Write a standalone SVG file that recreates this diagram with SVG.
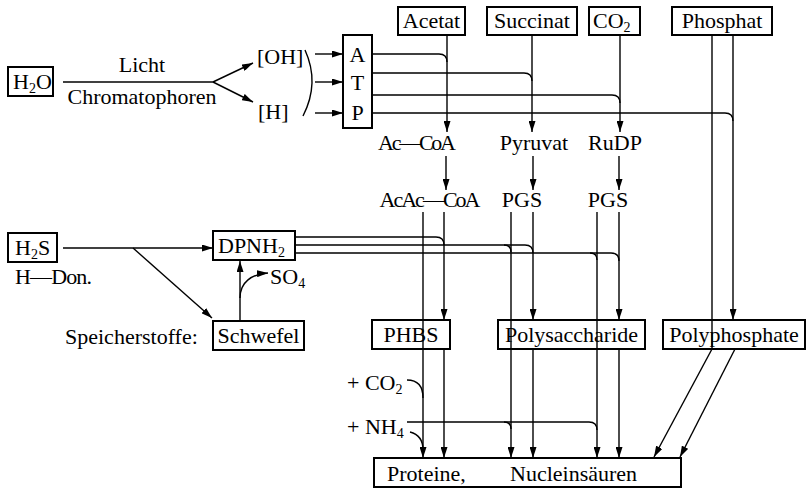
<svg xmlns="http://www.w3.org/2000/svg" width="807" height="490" viewBox="0 0 807 490">
<style>
text{font-family:"Liberation Serif","DejaVu Serif",serif;font-size:22px;fill:#000}
.box{fill:none;stroke:#000;stroke-width:2}
.c{text-anchor:middle}
.ln{fill:none;stroke:#000;stroke-width:1.4}
.a{marker-end:url(#ah)}
.sub{font-size:14px}
</style>
<defs>
<marker id="ah" viewBox="0 0 11 7" refX="11" refY="3.5" markerWidth="11" markerHeight="7" markerUnits="userSpaceOnUse" orient="auto"><path d="M0,0 L11,3.5 L0,7 z" fill="#000"/></marker>
</defs>
<rect width="807" height="490" fill="#fff"/>

<g id="connectors">
<path class="ln" d="M63,82 H213"/>
<path class="ln a" d="M213,82 L253,63"/>
<path class="ln a" d="M213,82 L253,102"/>
<path class="ln" d="M305,50 Q320,83 303,116"/>
<path class="ln a" d="M315,54 H343"/>
<path class="ln a" d="M315,82 H343"/>
<path class="ln a" d="M315,113 H343"/>
<path class="ln" d="M372,54 H439 Q447,54 447,62"/>
<path class="ln" d="M372,73 H524 Q532,73 532,81"/>
<path class="ln" d="M372,95 H612 Q620,95 620,103"/>
<path class="ln" d="M372,113 H725 Q733,113 733,121"/>
<path class="ln a" d="M447,35 V132"/>
<path class="ln a" d="M532,35 V132"/>
<path class="ln a" d="M620,35 V132"/>
<path class="ln a" d="M446,156 V190"/>
<path class="ln a" d="M533,156 V190"/>
<path class="ln a" d="M619,156 V190"/>
<path class="ln" d="M712,35 V349"/>
<path class="ln a" d="M712,349 L654,457"/>
<path class="ln a" d="M733,35 V320"/>
<path class="ln a" d="M735,349 L680,457"/>
<path class="ln a" d="M423,212 V458"/>
<path class="ln a" d="M444,212 V320"/>
<path class="ln a" d="M444,349 V458"/>
<path class="ln a" d="M511,212 V458"/>
<path class="ln a" d="M533,212 V320"/>
<path class="ln a" d="M533,349 V458"/>
<path class="ln a" d="M597,212 V458"/>
<path class="ln a" d="M619,212 V320"/>
<path class="ln a" d="M619,349 V458"/>
<path class="ln" d="M295,237 H436 Q444,237 444,245"/>
<path class="ln" d="M295,245 H525 Q533,245 533,253"/>
<path class="ln" d="M504,245 Q511,245 511,252"/>
<path class="ln" d="M295,253 H611 Q619,253 619,261"/>
<path class="ln" d="M590,253 Q597,253 597,260"/>
<path class="ln a" d="M63,248 H213"/>
<path class="ln a" d="M133,248 L212,318"/>
<path class="ln a" d="M240,321 V261"/>
<path class="ln a" d="M240,298 C240,282 252,274 268,273"/>
<path class="ln" d="M407,380 C418,380 423,386 423,398"/>
<path class="ln" d="M410,432 C418,434 423,440 423,450"/>
<path class="ln" d="M407,422 H589 Q597,422 597,430"/>
<path class="ln" d="M504,422 Q511,422 511,429"/>
</g>

<g id="H2O"><rect class="box" x="8" y="67" width="45" height="29"/><text x="13" y="89">H<tspan class="sub" dy="4">2</tspan><tspan dy="-4">O</tspan></text></g>
<g id="licht"><text class="c" x="142" y="72">Licht</text><text class="c" x="142" y="104">Chromatophoren</text></g>
<g id="OH"><text x="257" y="64">[OH]</text></g>
<g id="H"><text x="258" y="119">[H]</text></g>
<g id="ATP"><rect class="box" x="343" y="35" width="29" height="93"/><text class="c" x="357.5" y="62">A</text><text class="c" x="357.5" y="90">T</text><text class="c" x="357.5" y="120">P</text></g>
<g id="Acetat"><rect class="box" x="398" y="7" width="67" height="28"/><text class="c" x="431.5" y="28">Acetat</text></g>
<g id="Succinat"><rect class="box" x="487" y="7" width="90" height="28"/><text class="c" x="532" y="28">Succinat</text></g>
<g id="CO2"><rect class="box" x="589" y="7" width="51" height="28"/><text x="593" y="28">CO<tspan class="sub" dy="4">2</tspan></text></g>
<g id="Phosphat"><rect class="box" x="672" y="7" width="100" height="28"/><text class="c" x="722" y="28">Phosphat</text></g>
<g id="AcCoA"><text class="c" x="417" y="150" textLength="78">Ac—CoA</text></g>
<g id="Pyruvat"><text class="c" x="534" y="150">Pyruvat</text></g>
<g id="RuDP"><text class="c" x="615" y="150">RuDP</text></g>
<g id="AcAcCoA"><text class="c" x="430" y="207" textLength="101">AcAc—CoA</text></g>
<g id="PGS1"><text class="c" x="522" y="207">PGS</text></g>
<g id="PGS2"><text class="c" x="608" y="207">PGS</text></g>
<g id="H2S"><rect class="box" x="8" y="233" width="49" height="29"/><text x="15" y="255">H<tspan class="sub" dy="4">2</tspan><tspan dy="-4">S</tspan></text><text x="15" y="284" textLength="77">H—Don.</text></g>
<g id="DPNH2"><rect class="box" x="213" y="231" width="82" height="29"/><text x="218" y="253">DPNH<tspan class="sub" dy="4">2</tspan></text></g>
<g id="SO4"><text x="270" y="284">SO<tspan class="sub" dy="4">4</tspan></text></g>
<g id="Schwefel"><rect class="box" x="213" y="321" width="91" height="29"/><text class="c" x="258.5" y="343">Schwefel</text></g>
<g id="Speicher"><text x="65" y="344">Speicherstoffe:</text></g>
<g id="PHBS"><rect class="box" x="372" y="320" width="78" height="29"/><text class="c" x="411" y="342">PHBS</text></g>
<g id="Polysaccharide"><rect class="box" x="498" y="320" width="147" height="29"/><text class="c" x="571.5" y="342">Polysaccharide</text></g>
<g id="Polyphosphate"><rect class="box" x="663" y="320" width="142" height="29"/><text class="c" x="734" y="342">Polyphosphate</text></g>
<g id="CO2add"><text x="347" y="390">+ CO<tspan class="sub" dy="4">2</tspan></text></g>
<g id="NH4add"><text x="347" y="434">+ NH<tspan class="sub" dy="4">4</tspan></text></g>
<g id="Proteine"><rect class="box" x="374" y="458" width="307" height="29"/><text x="387" y="481">Proteine,</text><text x="510" y="481">Nucleinsäuren</text></g>
</svg>
